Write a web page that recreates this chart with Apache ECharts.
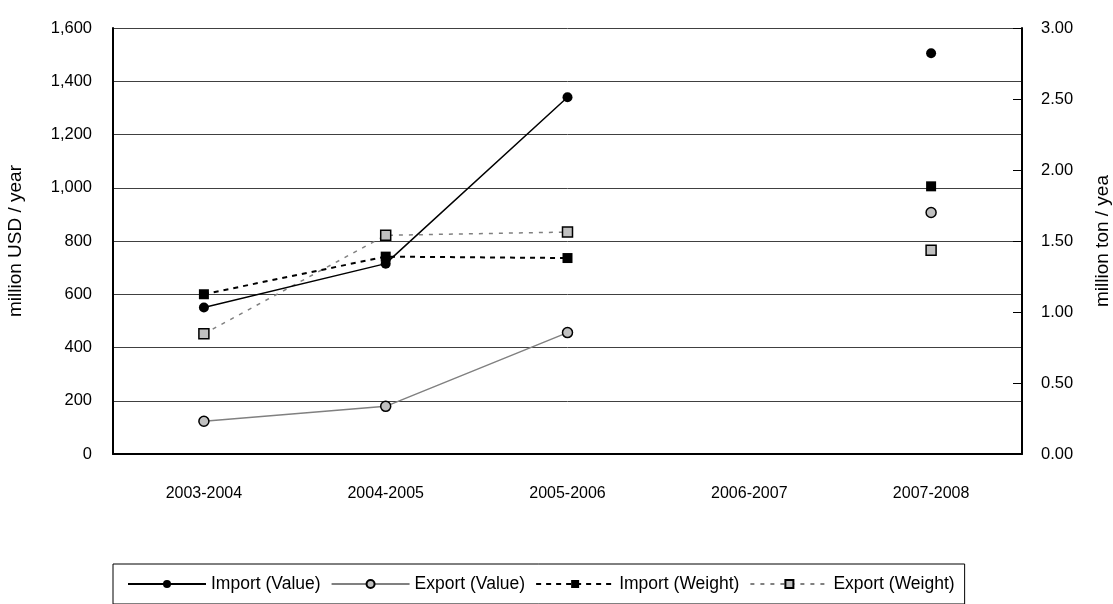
<!DOCTYPE html>
<html>
<head>
<meta charset="utf-8">
<script src="https://cdn.jsdelivr.net/npm/echarts@6/dist/echarts.min.js"></script>
<style>
html,body{margin:0;padding:0;background:#fff;}
#chart{width:1113px;height:604px;}
</style>
</head>
<body>
<div id="chart"></div>
<script>
const categories = ['2003-2004', '2004-2005', '2005-2006', '2006-2007', '2007-2008'];
const importValue = [550, 715, 1340, null, 1505];
const exportValue = [123, 179, 456, null, 907];
const importWeight = [1.125, 1.39, 1.38, null, 1.885];
const exportWeight = [0.846, 1.54, 1.563, null, 1.434];
const leftAxisName = 'million USD / year';
const rightAxisName = 'million ton / yea';

const FONT = "'Liberation Sans', Arial, sans-serif";

const chart = echarts.init(document.getElementById('chart'), null, {renderer: 'canvas'});
chart.setOption({
  animation: false,
  backgroundColor: '#ffffff',
  textStyle: {fontFamily: FONT},
  grid: {left: 113, right: 91, top: 28, bottom: 150, containLabel: false, outerBoundsMode: 'none'},
  legend: {
    left: 113, top: 564,
    padding: [11, 10, 11, 14],
    itemWidth: 78, itemHeight: 10, itemGap: 10,
    borderColor: '#000', borderWidth: 1,
    textStyle: {fontFamily: FONT, fontSize: 17.5, color: '#000'},
    data: ['Import (Value)', 'Export (Value)', 'Import (Weight)', 'Export (Weight)']
  },
  xAxis: {
    type: 'category',
    data: categories,
    boundaryGap: true,
    axisLine: {lineStyle: {color: '#000', width: 2}},
    axisTick: {inside: true, length: 8, lineStyle: {color: '#000', width: 1}},
    axisLabel: {margin: 32, fontSize: 16, color: '#000', fontFamily: FONT},
    splitLine: {show: false}
  },
  yAxis: [
    {
      type: 'value', min: 0, max: 1600, interval: 200,
      name: leftAxisName, nameLocation: 'middle', nameGap: 88, nameRotate: 90,
      nameTextStyle: {fontSize: 19, color: '#000', fontFamily: FONT},
      axisLine: {show: true, lineStyle: {color: '#000', width: 2}},
      axisTick: {show: false},
      axisLabel: {margin: 21, fontSize: 16.5, color: '#000', fontFamily: FONT,
        formatter: v => v.toLocaleString('en-US')},
      splitLine: {show: true, lineStyle: {color: '#404040', width: 1}}
    },
    {
      type: 'value', min: 0, max: 3, interval: 0.5, position: 'right',
      name: rightAxisName, nameLocation: 'middle', nameGap: 71, nameRotate: 90,
      nameTextStyle: {fontSize: 19, color: '#000', fontFamily: FONT},
      axisLine: {show: true, lineStyle: {color: '#000', width: 2}},
      axisTick: {show: true, inside: true, length: 9, lineStyle: {color: '#000'}},
      axisLabel: {margin: 19, fontSize: 16.5, color: '#000', fontFamily: FONT,
        formatter: v => v.toFixed(2)},
      splitLine: {show: false}
    }
  ],
  series: [
    {
      name: 'Export (Weight)', type: 'line', yAxisIndex: 1, data: exportWeight,
      symbol: 'rect', symbolSize: 10,
      lineStyle: {color: '#808080', width: 1.5, type: [4, 6]},
      itemStyle: {color: '#c0c0c0', borderColor: '#000', borderWidth: 1.5}
    },
    {
      name: 'Import (Weight)', type: 'line', yAxisIndex: 1, data: importWeight,
      symbol: 'rect', symbolSize: 10,
      lineStyle: {color: '#000', width: 2, type: [5, 5]},
      itemStyle: {color: '#000', borderColor: '#000', borderWidth: 0}
    },
    {
      name: 'Export (Value)', type: 'line', yAxisIndex: 0, data: exportValue,
      symbol: 'circle', symbolSize: 10,
      lineStyle: {color: '#808080', width: 1.5, type: 'solid'},
      itemStyle: {color: '#c0c0c0', borderColor: '#000', borderWidth: 1.5}
    },
    {
      name: 'Import (Value)', type: 'line', yAxisIndex: 0, data: importValue,
      symbol: 'circle', symbolSize: 10,
      lineStyle: {color: '#000', width: 1.5, type: 'solid'},
      itemStyle: {color: '#000', borderColor: '#000', borderWidth: 0}
    }
  ]
});
</script>
</body>
</html>
